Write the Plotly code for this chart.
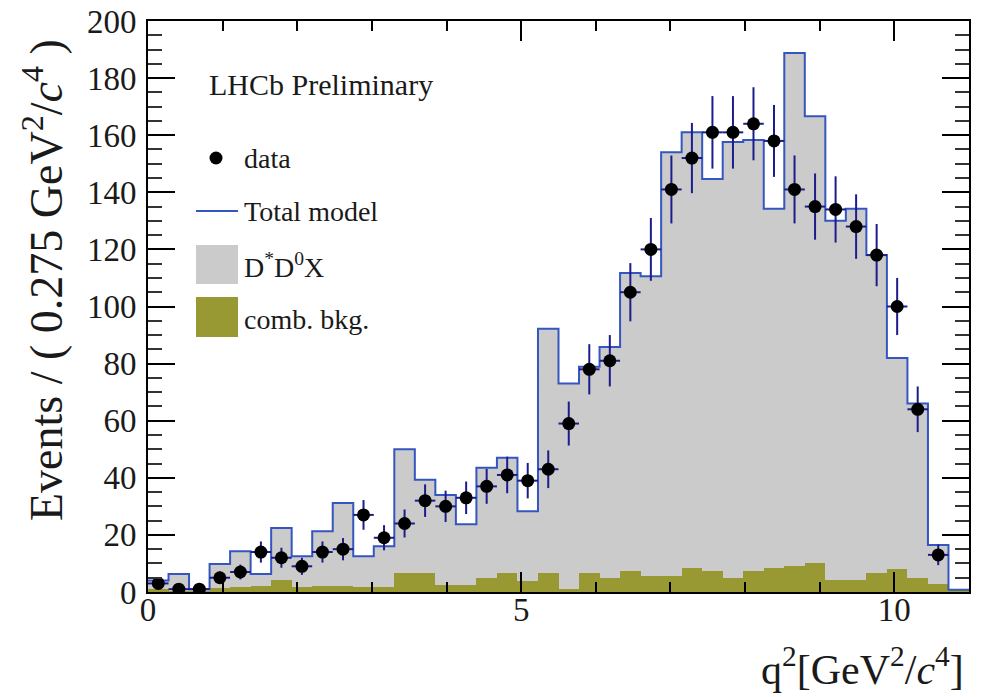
import numpy as np
import plotly.graph_objects as go

# q2 binning: 40 bins of 0.275 GeV^2/c^4 from 0 to 11
bin_width = 0.275
n_bins = 40

# data counts per bin (last bin empty, not drawn)
data_counts = [3, 1, 1, 5, 7, 14, 12, 9, 14, 15, 27, 19, 24, 32, 30, 33, 37, 41, 39, 43,
               59, 78, 81, 105, 120, 141, 152, 161, 161, 164, 158, 141, 135, 134, 128, 118,
               100, 64, 13]
data_err = [1.7, 1.0, 1.0, 2.2, 2.6, 3.7, 3.5, 3.0, 3.7, 3.9, 5.2, 4.4, 4.9, 5.7, 5.5, 5.7,
            6.1, 6.4, 6.2, 6.6, 7.7, 8.8, 9.0, 10.2, 11.0, 11.9, 12.3, 12.7, 12.7, 12.8,
            12.6, 11.9, 11.6, 11.6, 11.3, 10.9, 10.0, 8.0, 3.6]

# total fit model per bin
total_model = [4.0, 6.3, 1.0, 9.8, 14.3, 6.3, 22.4, 12.5, 21.3, 31.2, 12.5, 16.0, 50.0, 39.3,
               34.0, 23.7, 43.5, 47.0, 28.3, 92.2, 73.0, 78.9, 85.8, 111.7, 110.6, 154.0,
               161.0, 144.7, 157.6, 158.3, 134.2, 188.8, 166.6, 130.0, 134.2, 118.0, 82.0,
               66.0, 16.5, 0.8]

# combinatorial background component per bin
comb_bkg = [1.0, 0.5, 0.5, 1.3, 1.9, 2.2, 4.2, 1.6, 2.1, 2.1, 1.9, 1.6, 6.5, 6.7, 2.5, 2.5,
            5.0, 6.8, 4.0, 6.7, 1.2, 6.8, 4.8, 7.5, 5.7, 5.7, 8.4, 7.3, 4.8, 7.3, 8.3, 9.2,
            10.0, 4.2, 4.2, 6.5, 8.1, 4.8, 2.7, 0.8]

edges = np.arange(n_bins + 1) * bin_width
centers = edges[:-1] + bin_width / 2
dstar_d0x = [t - c for t, c in zip(total_model, comb_bkg)]

FONT = "Liberation Serif"
TXT = "#1a1a1a"
GRAY = "#cbcbcb"
OLIVE = "#999933"
BLUE = "#3556c0"
NAVY = "#1c1c8c"

# the page body adds an 8px margin, so the figure sits 8px right/down
OFF = 8
W, H = 982, 697
L, R, T, B = 140, 21, 13, 113


def px(xp):
    # screen x pixel -> paper x
    return (xp - OFF - L) / (W - L - R)


def py(yp):
    # screen y pixel -> paper y
    return (H - B - (yp - OFF)) / (H - T - B)


fig = go.Figure()

fig.add_trace(go.Bar(x=centers, y=comb_bkg, width=bin_width, marker_color=OLIVE,
                     marker_line_width=0, name="comb. bkg."))
fig.add_trace(go.Bar(x=centers, y=dstar_d0x, width=bin_width, marker_color=GRAY,
                     marker_line_width=0, name="D*D0X"))
fig.add_trace(go.Scatter(x=edges, y=total_model + [total_model[-1]], mode="lines",
                         line=dict(color=BLUE, width=2, shape="hv"), name="Total model"))
fig.add_trace(go.Scatter(x=centers[:len(data_counts)], y=data_counts, mode="markers",
                         marker=dict(color="black", size=13),
                         error_y=dict(type="data", array=data_err, color=NAVY,
                                      thickness=2, width=0),
                         error_x=dict(type="constant", value=bin_width / 2, color=NAVY,
                                      thickness=2, width=0),
                         name="data"))

axis_common = dict(showline=True, linecolor="black", linewidth=2, mirror="allticks",
                   ticks="inside", tickcolor="black", tickwidth=2, showgrid=False,
                   zeroline=False, automargin=False, ticklabeloverflow="allow",
                   tickfont=dict(family=FONT, size=33, color=TXT))

fig.update_xaxes(range=[0, 11], dtick=5, tick0=0, ticklen=20, ticklabelstandoff=-13,
                 minor=dict(dtick=1, ticklen=10, ticks="inside", tickcolor="black",
                            tickwidth=2, showgrid=False),
                 **axis_common)
fig.update_yaxes(range=[0, 200], dtick=20, tick0=0, ticklen=27, ticklabelstandoff=3,
                 minor=dict(dtick=5, ticklen=14, ticks="inside", tickcolor="#333",
                            tickwidth=2, showgrid=False),
                 **axis_common)

annotations = [
    dict(text="Events / ( 0.275 GeV<sup>2</sup>/<i>c</i><sup>4</sup> )", textangle=-90,
         x=px(43), y=py(280), xanchor="center", yanchor="middle",
         font=dict(family=FONT, size=46, color=TXT)),
    dict(text="q<sup>2</sup>[GeV<sup>2</sup>/<i>c</i><sup>4</sup>]",
         x=px(966), y=py(666), xanchor="right", yanchor="middle",
         font=dict(family=FONT, size=42, color=TXT)),
    dict(text="LHCb Preliminary", x=px(207), y=py(84), xanchor="left", yanchor="middle",
         font=dict(family=FONT, size=30, color=TXT)),
    dict(text="data", x=px(242), y=py(158), xanchor="left", yanchor="middle",
         font=dict(family=FONT, size=28, color=TXT)),
    dict(text="Total model", x=px(242), y=py(211), xanchor="left", yanchor="middle",
         font=dict(family=FONT, size=28, color=TXT)),
    dict(text="D<sup>*</sup>D<sup>0</sup>X", x=px(242), y=py(265), xanchor="left",
         yanchor="middle", font=dict(family=FONT, size=28, color=TXT)),
    dict(text="comb. bkg.", x=px(242), y=py(319), xanchor="left", yanchor="middle",
         font=dict(family=FONT, size=28, color=TXT)),
]
for a in annotations:
    a.update(xref="paper", yref="paper", showarrow=False)

shapes = [
    dict(type="circle", x0=px(209.5), x1=px(222.5), y0=py(164.5), y1=py(151.5),
         fillcolor="black", line_width=0),
    dict(type="line", x0=px(196), x1=px(238), y0=py(211), y1=py(211),
         line=dict(color=BLUE, width=2)),
    dict(type="rect", x0=px(196), x1=px(238), y0=py(284), y1=py(245),
         fillcolor=GRAY, line_width=0),
    dict(type="rect", x0=px(196), x1=px(238), y0=py(337), y1=py(297),
         fillcolor=OLIVE, line_width=0),
]
for s in shapes:
    s.update(xref="paper", yref="paper")

fig.update_layout(width=W, height=H, margin=dict(l=L, r=R, t=T, b=B),
                  barmode="stack", bargap=0, plot_bgcolor="white", paper_bgcolor="white",
                  annotations=annotations, shapes=shapes, showlegend=False)

fig.write_html("out.html")
